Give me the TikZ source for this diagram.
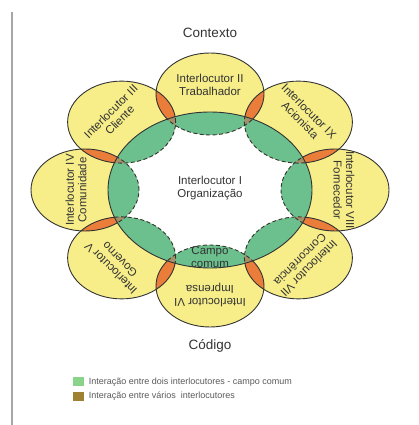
\documentclass[tikz,border=0pt]{standalone}
\usepackage{fontspec}
\setmainfont{Liberation Sans}
\usetikzlibrary{positioning}
\definecolor{ylw}{HTML}{F7EE8A}
\definecolor{orng}{HTML}{EA7D3A}
\definecolor{grn}{HTML}{6CC08E}
\definecolor{olv}{HTML}{A39168}
\definecolor{keygrn}{HTML}{8AD38A}
\definecolor{keybrn}{HTML}{9E8132}
\definecolor{ink}{HTML}{333333}
\newcommand{\ovlpath}[1]{(o#1) ellipse [x radius=54pt, y radius=41pt]}
\newcommand{\orgpath}{(C) ellipse [x radius=102pt, y radius=78pt]}

\begin{document}
\begin{tikzpicture}[x=1pt,y=1pt,
  rim/.style={draw=ink, line width=0.9pt},
  rimdash/.style={rim, dash pattern=on 4pt off 2.5pt},
  lbl/.style={align=center, text=ink, inner sep=1pt, font=\fontsize{11.5}{12.5}\selectfont},
  ttl/.style={text=ink, font=\fontsize{13.5}{14}\selectfont},
  keybox/.style={minimum width=11pt, minimum height=9pt, inner sep=0pt},
  keytxt/.style={text=black!65, inner sep=0pt, font=\fontsize{9}{10}\selectfont}]
\useasboundingbox (0,0) rectangle (419,425);
\draw[gray!70, line width=2pt] (12,0) -- (12,413);

\coordinate (C) at (210,235);
\foreach \n/\a in {VIII/0,IX/45,II/90,III/135,IV/180,V/225,VI/270,VII/315}
  \coordinate (o\n) at ({210+125*cos(\a)},{235+96*sin(\a)});

% interlocutors
\foreach \n in {VIII,IX,II,III,IV,V,VI,VII}
  \fill[ylw] \ovlpath{\n};
% overlap of two neighbours
\foreach \p/\q in {VIII/IX,IX/II,II/III,III/IV,IV/V,V/VI,VI/VII,VII/VIII}
  {\begin{scope} \clip \ovlpath{\p}; \fill[orng] \ovlpath{\q}; \end{scope}}
% campo comum with the organisation
\foreach \n in {VIII,IX,II,III,IV,V,VI,VII}
  {\begin{scope} \clip \orgpath; \fill[grn] \ovlpath{\n}; \end{scope}}
\foreach \p/\q in {VIII/IX,IX/II,II/III,III/IV,IV/V,V/VI,VI/VII,VII/VIII}
  {\begin{scope} \clip \orgpath; \clip \ovlpath{\p}; \fill[olv] \ovlpath{\q}; \end{scope}}

% outlines
\begin{scope}[even odd rule]
  \clip (0,0) rectangle (419,425) \orgpath;
  \foreach \n in {VIII,IX,II,III,IV,V,VI,VII} \draw[rim] \ovlpath{\n};
\end{scope}
\begin{scope}
  \clip \orgpath;
  \foreach \n in {VIII,IX,II,III,IV,V,VI,VII} \draw[rimdash] \ovlpath{\n};
\end{scope}
\draw[rim] \orgpath;

% labels
\foreach \n/\a/\r in {VIII/0/Fornecedor,IX/45/Acionista,II/90/Trabalhador,III/135/Cliente,
    IV/180/Comunidade,V/225/Governo,VI/270/Imprensa,VII/315/Concorrência}
  \node[lbl, rotate=\a-90] (t\n) at ({210+134*cos(\a)},{235+105*sin(\a)}) {Interlocutor \n\\\r};
\node[lbl] (tI) at (210,237) {Interlocutor I\\Organização};
\node[lbl] (campo) at (210,168) {Campo\\comum};

\node[ttl] (contexto) at (210,392) {Contexto};
\node[ttl] (codigo) at (210,79) {Código};

% legend
\node[keybox, fill=keygrn] (key1) at (78,43) {};
\node[keytxt, right=5pt of key1] (key1t) {Interação entre dois interlocutores - campo comum};
\node[keybox, fill=keybrn] (key2) at (78,28.5) {};
\node[keytxt, right=5pt of key2] (key2t) {Interação entre vários\ \ interlocutores};
\end{tikzpicture}
\end{document}
